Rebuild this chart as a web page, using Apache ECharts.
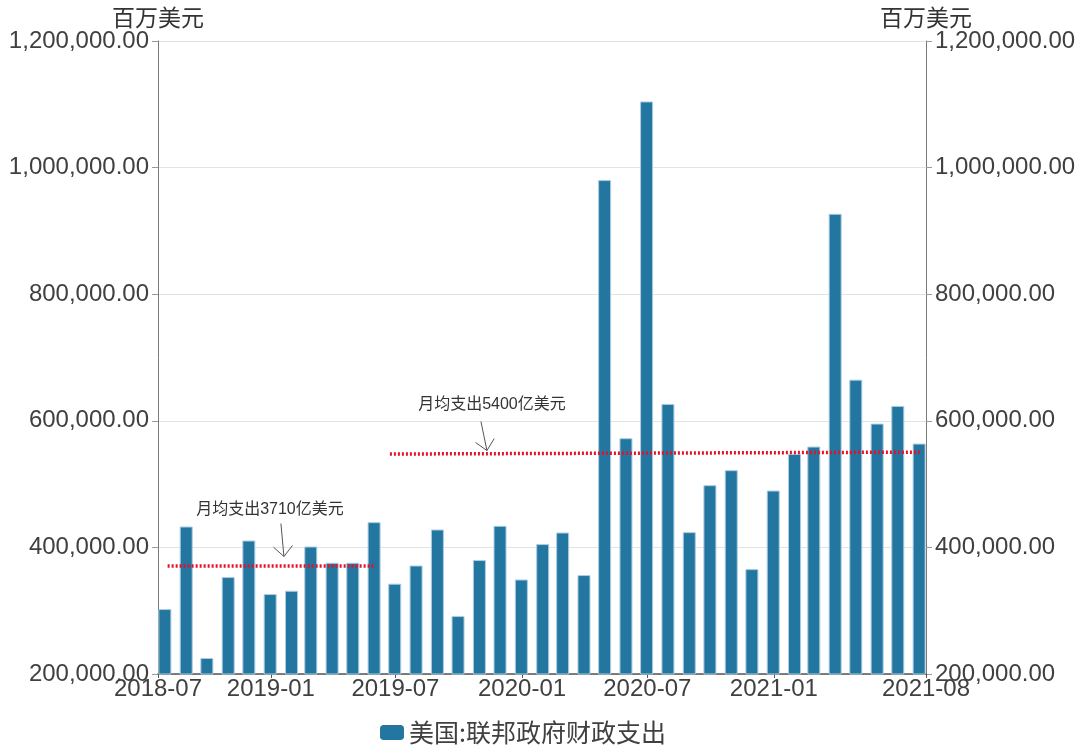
<!DOCTYPE html>
<html>
<head>
<meta charset="utf-8">
<script src="https://cdn.jsdelivr.net/npm/echarts@6/dist/echarts.min.js"></script>
<style>
  html, body { margin: 0; padding: 0; background: #fff; }
  #chart { width: 1080px; height: 750px; }
</style>
</head>
<body>
<div id="chart"></div>
<script>
// months of the bars (each bar sits at the month end)
var months = [
    '2018-07', '2018-08', '2018-09', '2018-10', '2018-11', '2018-12',
    '2019-01', '2019-02', '2019-03', '2019-04', '2019-05', '2019-06',
    '2019-07', '2019-08', '2019-09', '2019-10', '2019-11', '2019-12',
    '2020-01', '2020-02', '2020-03', '2020-04', '2020-05', '2020-06',
    '2020-07', '2020-08', '2020-09', '2020-10', '2020-11', '2020-12',
    '2021-01', '2021-02', '2021-03', '2021-04', '2021-05', '2021-06', '2021-07'
];
// 美国:联邦政府财政支出, 百万美元
var spending = [
    302600, 433000, 225300, 353100, 410900, 326300,
    331500, 401400, 375700, 375700, 439900, 342700,
    371400, 428300, 291500, 380000, 434100, 349300,
    405200, 423500, 356300, 980300, 572500, 1104500,
    626700, 424100, 498300, 522000, 365700, 489800,
    547700, 559300, 927000, 665000, 595600, 623500, 564000
];
var seriesName = '美国:联邦政府财政支出';
var unitName = '百万美元';

// x axis range and tick dates
var xMin = '2018-07-21';
var xMax = '2021-08-10';
var xTicks = ['2018-07-21', '2019-01-01', '2019-07-01', '2020-01-01', '2020-07-01', '2021-01-01', '2021-08-10'];

// y axis
var yMin = 200000;
var yMax = 1200000;
var yStep = 200000;

// average lines [start date, value, end date, value]
var avgLines = [
    ['2018-08-04', 371000, '2019-06-02', 371000],
    ['2019-06-23', 547500, '2021-08-04', 550500]
];
// notes and where their arrows point
var noteTexts = ['月均支出3710亿美元', '月均支出5400亿美元'];
var noteTips = [['2019-01-20', 385600], ['2019-11-11', 553000]];

function toTime(s) {
    var p = s.split('-');
    return new Date(+p[0], +p[1] - 1, +(p[2] || 1)).getTime();
}
function monthEnd(ym) {
    var p = ym.split('-');
    return new Date(+p[0], +p[1], 0).getTime();
}
function fmtNum(v) {
    return v.toLocaleString('en-US', { minimumFractionDigits: 2, maximumFractionDigits: 2 });
}
function fmtMonth(v) {
    var d = new Date(v);
    var m = d.getMonth() + 1;
    return d.getFullYear() + '-' + (m < 10 ? '0' + m : m);
}

var barData = months.map(function (m, i) {
    return [monthEnd(m), spending[i]];
});
var tickValues = xTicks.map(toTime);
var lineData = avgLines.map(function (l) {
    return [{ coord: [toTime(l[0]), l[1]] }, { coord: [toTime(l[2]), l[3]] }];
});

var latin = 'Liberation Sans, Arial, Noto Sans CJK SC, sans-serif';
var cjk = 'Noto Sans CJK SC, sans-serif';

var yAxisBase = {
    type: 'value',
    min: yMin,
    max: yMax,
    interval: yStep,
    name: unitName,
    nameLocation: 'end',
    nameGap: 12,
    nameTextStyle: {
        fontFamily: cjk,
        fontSize: 23,
        color: '#333',
        align: 'center',
        verticalAlign: 'bottom'
    },
    axisLine: { show: true, lineStyle: { color: '#7a7a7a', width: 1 } },
    axisTick: { show: true, length: 6, lineStyle: { color: '#9a9a9a' } },
    axisLabel: {
        fontFamily: latin,
        fontSize: 24,
        color: '#404040',
        margin: 9,
        formatter: fmtNum
    }
};

var option = {
    backgroundColor: '#fff',
    animation: false,
    grid: {
        left: 158,
        right: 154,
        top: 41,
        bottom: 76
    },
    legend: {
        data: [seriesName],
        bottom: 0,
        left: 375,
        icon: 'roundRect',
        itemWidth: 24,
        itemHeight: 15,
        itemGap: 6,
        itemStyle: { borderWidth: 0 },
        textStyle: { fontFamily: cjk, fontSize: 25, color: '#404040' }
    },
    xAxis: {
        // dates as timestamps on a plain value axis, so the tick dates can be fixed
        type: 'value',
        min: toTime(xMin),
        max: toTime(xMax),
        scale: true,
        splitLine: { show: false },
        axisLine: { lineStyle: { color: '#555', width: 1.5 } },
        axisTick: {
            show: true,
            length: 4,
            customValues: tickValues,
            lineStyle: { color: '#555' }
        },
        axisLabel: {
            customValues: tickValues,
            showMinLabel: true,
            showMaxLabel: true,
            hideOverlap: false,
            fontFamily: latin,
            fontSize: 24,
            color: '#404040',
            margin: 3,
            formatter: function (v) { return fmtMonth(v); }
        }
    },
    yAxis: [
        Object.assign({}, yAxisBase, {
            position: 'left',
            splitLine: { show: true, lineStyle: { color: '#e3e3e3', width: 1 } }
        }),
        Object.assign({}, yAxisBase, {
            position: 'right',
            splitLine: { show: false }
        })
    ],
    series: [
        {
            name: seriesName,
            type: 'bar',
            yAxisIndex: 0,
            barWidth: 13,
            data: barData,
            itemStyle: {
                color: '#23769f',
                borderColor: '#a9cde2',
                borderWidth: 1
            },
            markLine: {
                silent: true,
                symbol: 'none',
                label: { show: false },
                lineStyle: { color: '#e4112b', width: 3.5, type: [2, 2] },
                data: lineData
            }
        }
    ]
};

var chart = echarts.init(document.getElementById('chart'));
chart.setOption(option);

// hand-drawn style notes: text plus a thin open arrow
var noteLayout = [
    { tail: [-3, -33], text: [-14, -47] },
    { tail: [-6, -29], text: [5, -46] }
];
var graphics = [];
noteTips.forEach(function (t, i) {
    var p = chart.convertToPixel({ xAxisIndex: 0, yAxisIndex: 0 }, [toTime(t[0]), t[1]]);
    var lay = noteLayout[i];
    var tail = [p[0] + lay.tail[0], p[1] + lay.tail[1]];
    var dx = p[0] - tail[0], dy = p[1] - tail[1];
    var len = Math.sqrt(dx * dx + dy * dy);
    var ux = dx / len, uy = dy / len;
    var wing = 14, ang = 0.75;
    function rot(a) {
        var c = Math.cos(a), s = Math.sin(a);
        return [p[0] - wing * (ux * c - uy * s), p[1] - wing * (ux * s + uy * c)];
    }
    graphics.push({
        type: 'polyline',
        silent: true,
        shape: { points: [tail, p] },
        style: { stroke: '#555', lineWidth: 1, fill: null }
    });
    graphics.push({
        type: 'polyline',
        silent: true,
        shape: { points: [rot(ang), p, rot(-ang)] },
        style: { stroke: '#555', lineWidth: 1, fill: null }
    });
    graphics.push({
        type: 'text',
        silent: true,
        x: p[0] + lay.text[0],
        y: p[1] + lay.text[1],
        style: {
            text: noteTexts[i],
            fontFamily: latin,
            fontSize: 16,
            fill: '#333',
            align: 'center',
            verticalAlign: 'middle'
        }
    });
});
chart.setOption({ graphic: graphics });
</script>
</body>
</html>
